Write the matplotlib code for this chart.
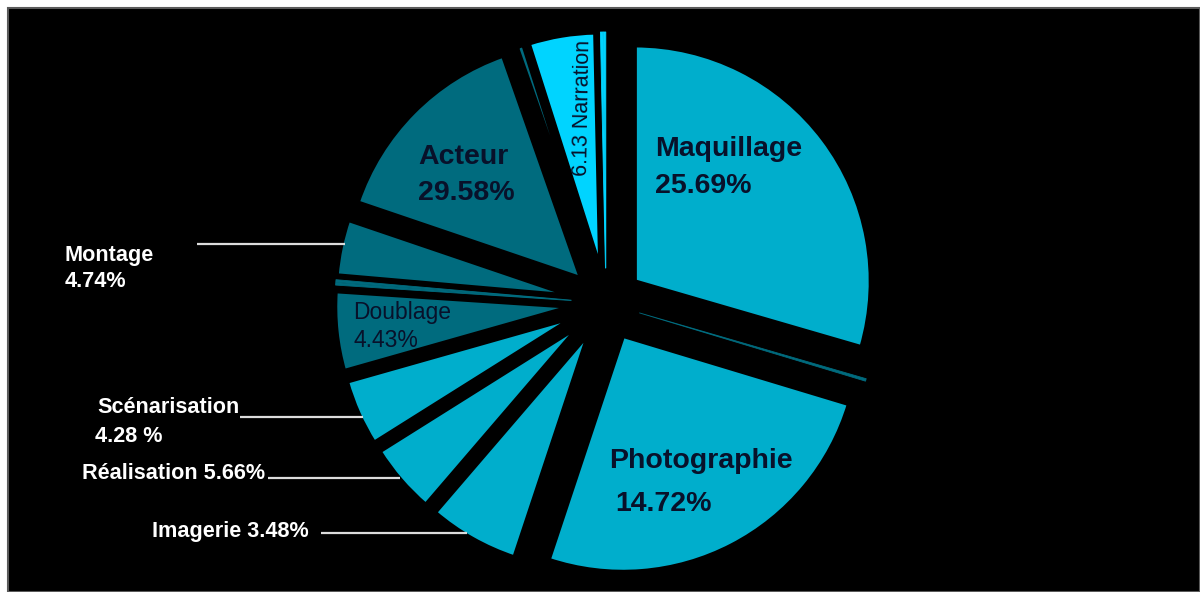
import matplotlib
matplotlib.use("Agg")
import matplotlib.pyplot as plt
from matplotlib.patches import Rectangle

plt.rcParams["font.family"] = ["Liberation Sans", "DejaVu Sans"]

categories = ["Maquillage", "mineur A", "Photographie", "Imagerie", "Réalisation",
              "Scénarisation", "Doublage", "mineur B", "mineur C", "Montage",
              "Acteur", "mineur D", "Narration", "mineur E", "mineur F"]
slice_share = [29.50, 0.17, 25.44, 6.19, 4.78,
               4.53, 5.44, 0.17, 0.17, 3.83,
               14.42, 0.47, 4.56, 0.17, 0.17]
tone = ["light", "dark", "light", "light", "light",
        "light", "dark", "dark", "dark", "dark",
        "dark", "dark", "bright", "bright", "bright"]
thin_slices = ["mineur A", "mineur B", "mineur C", "mineur E", "mineur F"]

inside_labels = [("Maquillage", "25.69%"), ("Acteur", "29.58%"),
                 ("Photographie", "14.72%"), ("Doublage", "4.43%")]
narration_label = "6.13 Narration"
outside_labels = ["Montage\n4.74%", "Scénarisation\n4.28 %",
                  "Réalisation 5.66%", "Imagerie 3.48%"]

# ---- styling ----
W, H = 1200, 592
palette = {"light": "#00AECC", "dark": "#006B7E", "bright": "#00D4FF"}
colors = [palette[t] for t in tone]
explode = [36, 35, 37, 35, 35, 35, 35, 35, 35, 35, 35, 35, 35, 35, 35]
R = 236
CX, CY = 606, 303          # pixel position of pie centre


def Y(py):
    return H - py


fig = plt.figure(figsize=(W / 100, H / 100), dpi=100, facecolor="white")
ax = fig.add_axes([0, 0, 1, 1])
ax.patch.set_alpha(0)
ax.set_xlim(0, W)
ax.set_ylim(0, H)
ax.add_patch(Rectangle((8, 0), W - 8, H - 8, facecolor="black",
                       edgecolor="#5a5a5a", linewidth=1.5, zorder=-5))

wedges, _ = ax.pie(slice_share, colors=colors, startangle=90, counterclock=False,
                   radius=R, center=(CX, Y(CY)), explode=explode,
                   wedgeprops=dict(edgecolor="black", linewidth=3, joinstyle="round"))
for w, name, c in zip(wedges, categories, colors):
    if name in thin_slices:
        w.set_edgecolor(c)
        w.set_linewidth(0.6)

ax.set_xlim(0, W)
ax.set_ylim(0, H)
ax.set_aspect("equal")
ax.axis("off")

txt_dark = "#08112a"
big = 20.5
# inside labels (pixel baselines)
pos_inside = {"Maquillage": ((655, 156), (655, 193)),
              "Acteur": ((418, 164), (418, 200)),
              "Photographie": ((609, 468), (615, 511)),
              "Doublage": ((353, 319), (353, 347))}
for name, pct in inside_labels:
    (x1, y1), (x2, y2) = pos_inside[name]
    if name == "Doublage":
        kw = dict(fontsize=16.5, fontweight="normal")
    else:
        kw = dict(fontsize=big, fontweight="bold")
    ax.text(x1, Y(y1), name, color=txt_dark, va="baseline", ha="left", **kw)
    ax.text(x2, Y(y2), pct, color=txt_dark, va="baseline", ha="left", **kw)

ax.text(583, Y(108), narration_label, rotation=89, rotation_mode="anchor",
        ha="center", va="center", fontsize=15.5, color=txt_dark)

# outside labels with leader lines
out_pos = [((65, 261), (65, 287)), ((97, 413), (95, 442)), ((82, 479), None), ((152, 537), None)]
lines = [((197, 345), 244), ((240, 363), 416.5), ((268, 400), 478.3), ((321, 467), 532.7)]
for lab, (p1, p2), ((xa, xb), ly) in zip(outside_labels, out_pos, lines):
    parts = lab.split("\n")
    ax.text(p1[0], Y(p1[1]), parts[0], color="white", fontsize=15.6, fontweight="bold",
            va="baseline", ha="left")
    if len(parts) > 1:
        ax.text(p2[0], Y(p2[1]), parts[1], color="white", fontsize=15.6, fontweight="bold",
                va="baseline", ha="left")
    ax.plot([xa, xb], [Y(ly), Y(ly)], color="#dcdcdc", lw=1.6, solid_capstyle="butt")

fig.savefig("out.png", dpi=100, facecolor="white")
